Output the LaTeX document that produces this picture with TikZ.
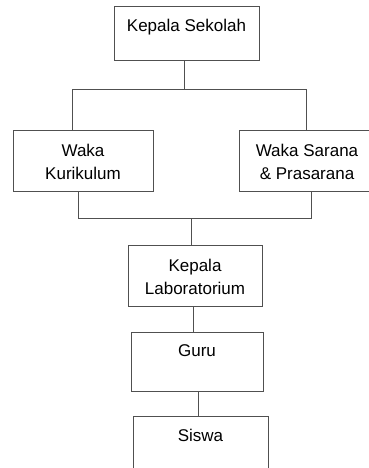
\documentclass[tikz,border=0pt]{standalone}
\usepackage{fontspec}
\setmainfont{Liberation Sans}
\usepackage{tikz}
\definecolor{garis}{RGB}{80,80,80}
\begin{document}
\begin{tikzpicture}[
        x=1pt, y=1pt,
        jabatan/.style={draw=garis, line width=1pt, inner sep=0pt, align=center, font=\fontsize{17}{23}\selectfont},
        conn/.style={draw=garis, line width=1pt}
    ]
        \clip (0,0) rectangle (369,468);
        \node[jabatan, minimum width=145, minimum height=54] (kepsek) at (186.5,434) {Kepala Sekolah\\[-6pt]\mbox{}};
        \node[jabatan, minimum width=140, minimum height=61] (wakakur) at (83,306.5) {Waka\\Kurikulum};
        \node[jabatan, minimum width=136, minimum height=61] (wakasar) at (307,306.5) {Waka Sarana\\\& Prasarana};
        \node[jabatan, minimum width=134, minimum height=61] (kalab) at (195,191.5) {Kepala\\Laboratorium};
        \node[jabatan, minimum width=132, minimum height=59] (guru) at (197,105.5) {Guru\\\mbox{}};
        \node[jabatan, minimum width=135, minimum height=59] (siswa) at (200.5,21.5) {Siswa\\\mbox{}};
        \coordinate (atas) at (184,378);
        \coordinate (bawah) at (191,249);
        \draw[conn] ([xshift=-2.5pt]kepsek.south) -- (atas);
        \draw[conn] (atas) -| ([xshift=-11pt]wakakur.north);
        \draw[conn] (atas) -| ([xshift=-1pt]wakasar.north);
        \draw[conn] ([xshift=-5pt]wakakur.south) |- (bawah);
        \draw[conn] ([xshift=4pt]wakasar.south) |- (bawah);
        \draw[conn] (bawah) -- (bawah |- kalab.north);
        \draw[conn] ([xshift=-2pt]kalab.south) -- ([xshift=-2pt]kalab.south |- guru.north);
        \draw[conn] ([xshift=1pt]guru.south) -- ([xshift=1pt]guru.south |- siswa.north);
    \end{tikzpicture}
\end{document}
